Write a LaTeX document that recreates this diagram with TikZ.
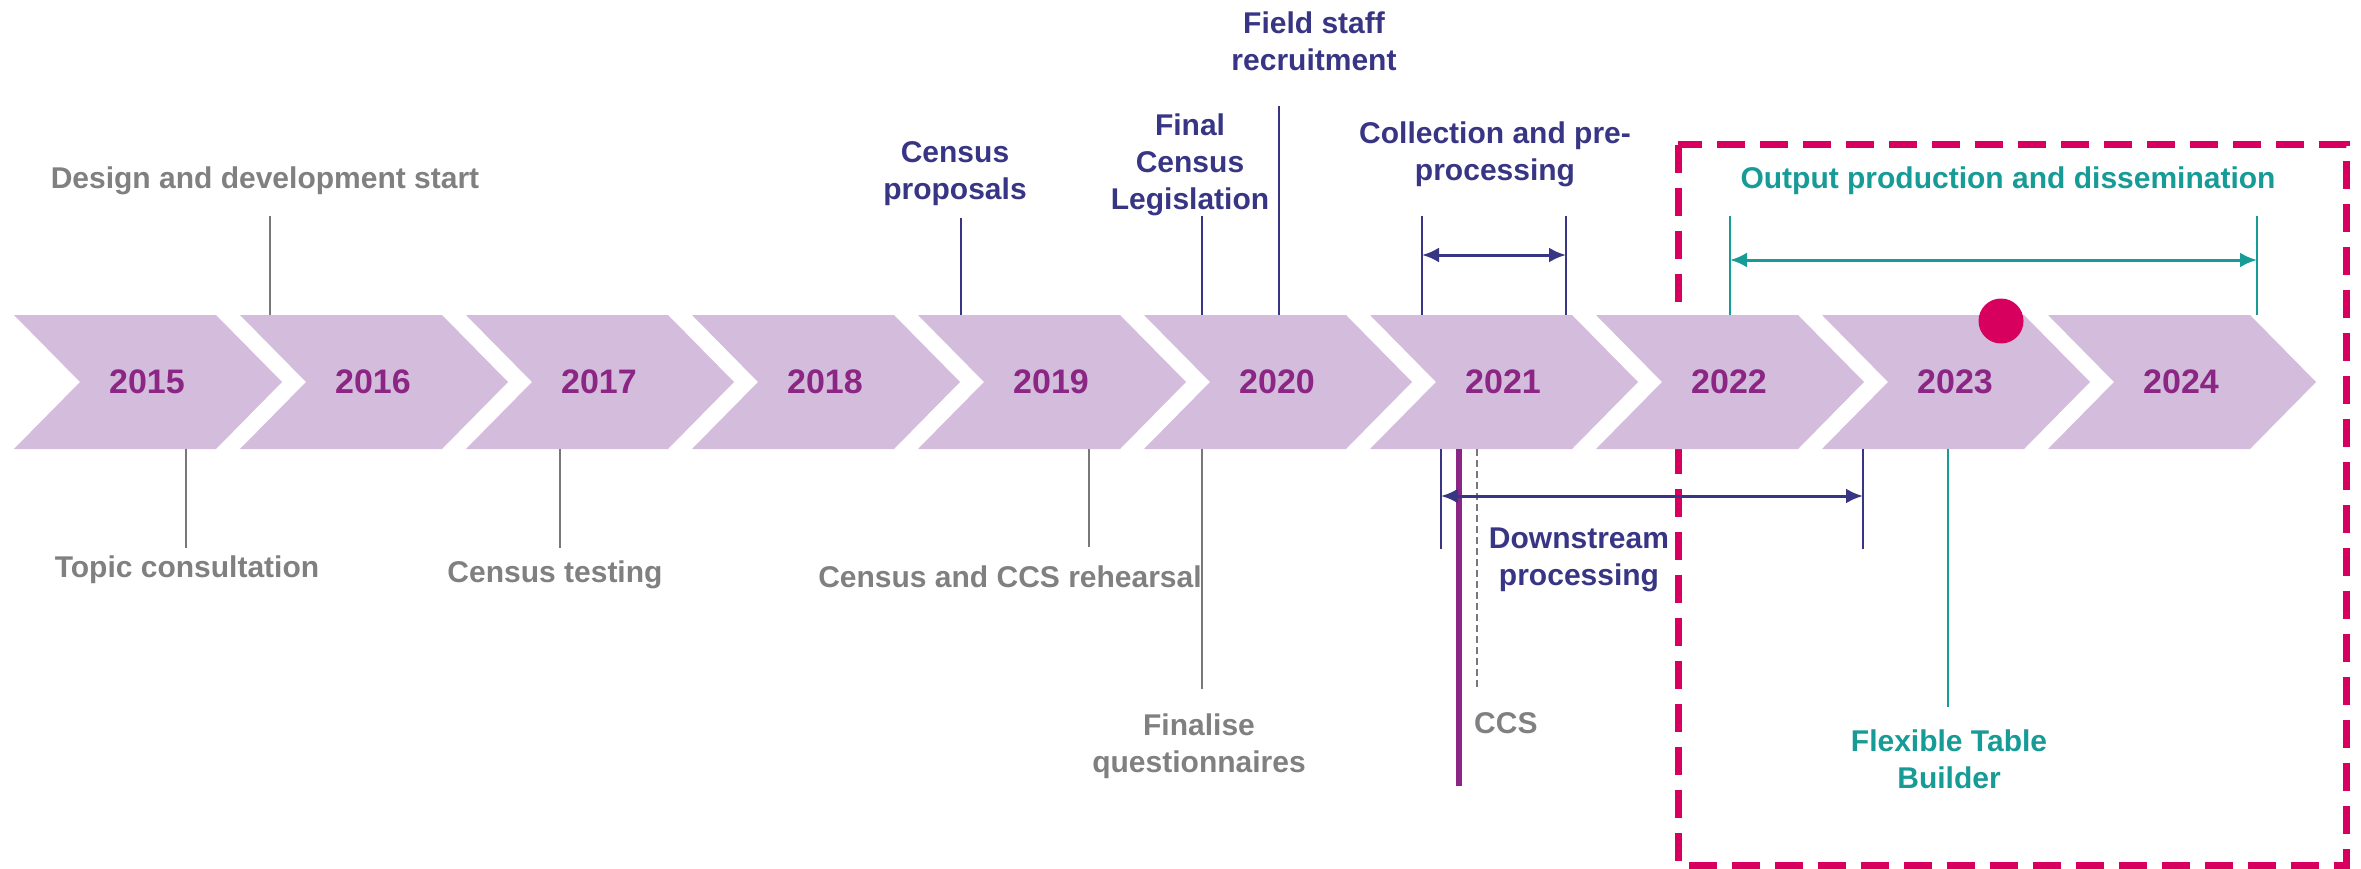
\documentclass[tikz,border=0pt]{standalone}
\usepackage{fontspec}
\setmainfont{Liberation Sans}
\usetikzlibrary{arrows.meta}
\definecolor{chevfill}{RGB}{212,189,220}
\definecolor{yearpurple}{RGB}{140,38,132}
\definecolor{navyc}{RGB}{56,54,132}
\definecolor{greytxt}{RGB}{128,128,128}
\definecolor{greyline}{RGB}{120,120,120}
\definecolor{tealc}{RGB}{22,155,150}
\definecolor{pinkc}{RGB}{215,0,95}
\begin{document}
\begin{tikzpicture}[x=1pt,y=-1pt,
  lbl/.style={font=\fontsize{30}{37}\selectfont\bfseries, align=center, inner sep=0pt},
  greylbl/.style={lbl, text=greytxt},
  navylbl/.style={lbl, text=navyc},
  teallbl/.style={lbl, text=tealc},
  yearlbl/.style={font=\fontsize{34}{40}\selectfont\bfseries, text=yearpurple, inner sep=0pt},
  chev/.style={fill=chevfill},
  greytick/.style={draw=greyline, line width=2.5pt},
  navytick/.style={draw=navyc, line width=2.5pt},
  tealtick/.style={draw=tealc, line width=2.5pt},
  navyspan/.style={draw=navyc, line width=3pt, {Latex[length=17pt,width=15pt]}-{Latex[length=17pt,width=15pt]}},
  tealspan/.style={draw=tealc, line width=3pt, {Latex[length=17pt,width=15pt]}-{Latex[length=17pt,width=15pt]}},
  focusbox/.style={draw=pinkc, line width=7pt, dash pattern=on 28pt off 15pt},
]
\useasboundingbox (0,0) rectangle (2361,869);

% focus box (behind chevrons)
\coordinate (boxnw) at (1678,145);
\coordinate (boxse) at (2346,865);
\draw[focusbox] (boxnw) rectangle (boxse);

% chevrons with years
\foreach \i/\yr in {0/2015,1/2016,2/2017,3/2018,4/2019,5/2020,6/2021,7/2022,8/2023,9/2024}{
  \pgfmathsetmacro{\xo}{14+226*\i}
  \fill[chev] (\xo,315) -- (\xo+202,315) -- (\xo+268,382) -- (\xo+202,449) -- (\xo,449) -- (\xo+66,382) -- cycle;
  \node[yearlbl] (y\yr) at (\xo+133,382) {\yr};
}

% pink dot
\node[circle, fill=pinkc, minimum size=45pt, inner sep=0pt] (dot) at (2001,321) {};

% ---- top labels ----
\node[greylbl] (design) at (265,181) {Design and development start};
\coordinate (designA) at (270,216); \coordinate (designB) at (270,315);
\draw[greytick] (designA) -- (designB);

\node[navylbl] (proposals) at (955,174) {Census\\proposals};
\coordinate (propA) at (961,218); \coordinate (propB) at (961,315);
\draw[navytick] (propA) -- (propB);

\node[navylbl] (legis) at (1190,165) {Final\\Census\\Legislation};
\coordinate (legA) at (1202,216); \coordinate (legB) at (1202,315);
\draw[navytick] (legA) -- (legB);

\node[navylbl] (field) at (1314,41) {Field staff\\recruitment};
\coordinate (fieldA) at (1279,106); \coordinate (fieldB) at (1279,315);
\draw[navytick] (fieldA) -- (fieldB);

\node[navylbl] (collect) at (1495,154) {Collection and pre-\\processing};
\coordinate (colLA) at (1422,216); \coordinate (colLB) at (1422,315);
\coordinate (colRA) at (1566,216); \coordinate (colRB) at (1566,315);
\coordinate (colL) at (1422,255); \coordinate (colR) at (1566,255);
\draw[navytick] (colLA) -- (colLB);
\draw[navytick] (colRA) -- (colRB);
\draw[navyspan] (colL) -- (colR);

\node[teallbl] (output) at (2008,181) {Output production and dissemination};
\coordinate (outLA) at (1730,216); \coordinate (outLB) at (1730,315);
\coordinate (outRA) at (2257,216); \coordinate (outRB) at (2257,315);
\coordinate (outL) at (1730,260); \coordinate (outR) at (2257,260);
\draw[tealtick] (outLA) -- (outLB);
\draw[tealtick] (outRA) -- (outRB);
\draw[tealspan] (outL) -- (outR);

% ---- bottom labels ----
\node[greylbl] (topic) at (187,570) {Topic consultation};
\coordinate (topA) at (186,449); \coordinate (topB) at (186,548);
\draw[greytick] (topA) -- (topB);

\node[greylbl] (testing) at (555,575) {Census testing};
\coordinate (testA) at (560,449); \coordinate (testB) at (560,548);
\draw[greytick] (testA) -- (testB);

\node[greylbl] (rehearsal) at (1010,577) {Census and CCS rehearsal};
\coordinate (rehA) at (1089,449); \coordinate (rehB) at (1089,547);
\draw[greytick] (rehA) -- (rehB);

\node[greylbl] (finalise) at (1199,746) {Finalise\\questionnaires};
\coordinate (finA) at (1202,449); \coordinate (finB) at (1202,689);
\draw[greytick] (finA) -- (finB);

% census day line and CCS
\coordinate (cdA) at (1459,449); \coordinate (cdB) at (1459,786);
\draw[yearpurple, line width=6pt] (cdA) -- (cdB);
\coordinate (ccsA) at (1477,449); \coordinate (ccsB) at (1477,687);
\draw[greyline, line width=1.5pt, dash pattern=on 7pt off 4pt] (ccsA) -- (ccsB);
\node[greylbl, anchor=west] (ccs) at (1474,723) {CCS};

% downstream processing
\node[navylbl] (downstream) at (1579,560) {Downstream\\processing};
\coordinate (dsLA) at (1441,449); \coordinate (dsLB) at (1441,549);
\coordinate (dsRA) at (1863,449); \coordinate (dsRB) at (1863,549);
\coordinate (dsL) at (1441,496); \coordinate (dsR) at (1863,496);
\draw[navytick] (dsLA) -- (dsLB);
\draw[navytick] (dsRA) -- (dsRB);
\draw[navyspan] (dsL) -- (dsR);

% flexible table builder
\node[teallbl] (ftb) at (1949,759) {Flexible Table\\Builder};
\coordinate (ftbA) at (1948,449); \coordinate (ftbB) at (1948,707);
\draw[tealtick] (ftbA) -- (ftbB);
\end{tikzpicture}
\end{document}
